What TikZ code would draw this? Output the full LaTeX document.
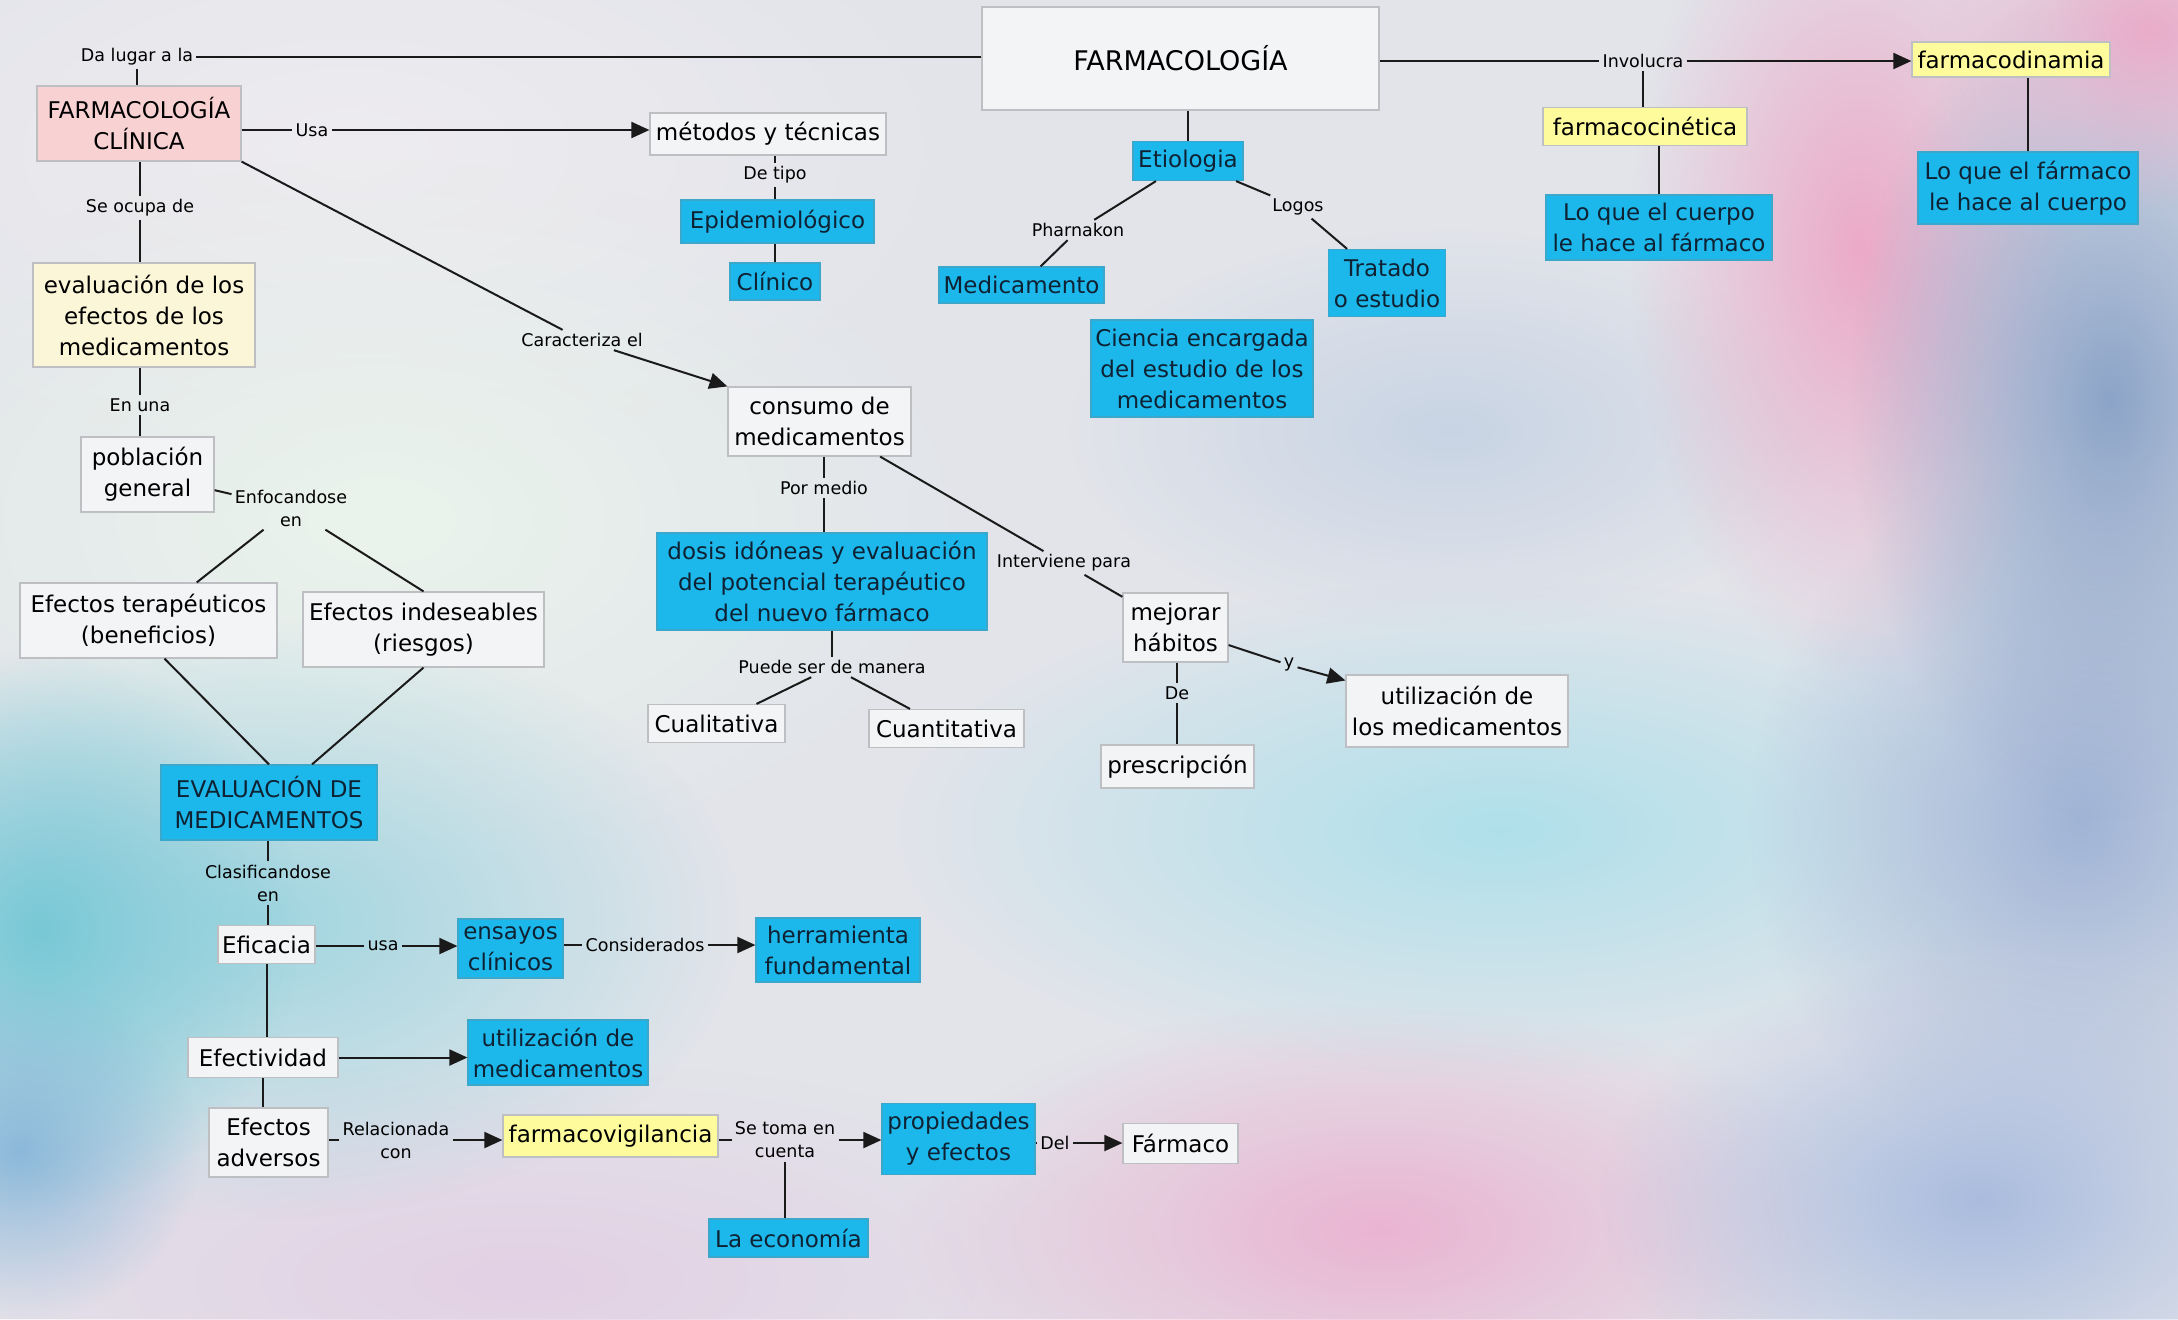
\documentclass[tikz,border=0pt]{standalone}
\usepackage{fontspec}
\setmainfont{DejaVu Sans}
\usetikzlibrary{arrows.meta,fadings}
\definecolor{bgbase}{HTML}{E2E4EA}
\definecolor{cyanbox}{HTML}{1CB8EC}
\definecolor{yelbox}{HTML}{FDFB9C}
\definecolor{paleyel}{HTML}{FCF6D8}
\definecolor{pinkbox}{HTML}{F8D2D3}
\definecolor{whitebox}{HTML}{F3F4F6}
\definecolor{boxline}{HTML}{BDBFC3}
\definecolor{linec}{HTML}{1A1A1A}
\definecolor{navytext}{HTML}{0F2233}
\definecolor{bA}{HTML}{EEECF0}
\definecolor{bB}{HTML}{EAF4EC}
\definecolor{bC}{HTML}{E2D0E4}
\definecolor{bD}{HTML}{A0D6E0}
\definecolor{bE}{HTML}{78C8D6}
\definecolor{bF}{HTML}{8CB9DA}
\definecolor{bG}{HTML}{EAB4D2}
\definecolor{bH}{HTML}{AFE0EA}
\definecolor{bI}{HTML}{A0B4D6}
\definecolor{bJ}{HTML}{AABCDE}
\definecolor{bK}{HTML}{C8D4E4}
\definecolor{bL}{HTML}{ECAAC8}
\definecolor{bM}{HTML}{8CA4C8}
\definecolor{bN}{HTML}{EAACCA}
\tikzfading[name=softblob, inner color=transparent!0, outer color=transparent!100]
\tikzset{
  wh/.style 2 args={minimum width=#1*0.5pt, minimum height=#2*0.5pt},
  basebox/.style={draw=boxline, line width=0.6pt, inner sep=2pt, align=center,
    font=\fontsize{11.5}{15.5}\selectfont, text=black},
  wbox/.style={basebox, fill=whitebox},
  cbox/.style={basebox, fill=cyanbox, draw=cyanbox!70!gray, text=navytext},
  ybox/.style={basebox, fill=yelbox},
  pybox/.style={basebox, fill=paleyel},
  pbox/.style={basebox, fill=pinkbox},
  titlefont/.style={font=\fontsize{13.5}{16}\selectfont},
  lbl/.style={inner sep=1.5pt, align=center, font=\fontsize{8.75}{11.5}\selectfont, text=black},
  con/.style={draw=linec, line width=1pt},
  arr/.style={con, -{Triangle[length=9pt,width=8pt]}},
  blob/.style={fill=#1, path fading=softblob}
}
\begin{document}
\begin{tikzpicture}[x=0.5pt,y=-0.5pt]
\useasboundingbox (0,0) rectangle (2178,1319);
% background
\fill[bgbase] (0,0) rectangle (2178,1319);
\begin{scope}
\clip (0,0) rectangle (2178,1319);
\fill[blob=bA] (350,150) ellipse (650 and 330);
\fill[blob=bB] (380,520) ellipse (600 and 360);
\fill[blob=bC] (520,1280) ellipse (650 and 220);
\fill[blob=bD] (260,920) ellipse (480 and 300);
\fill[blob=bE] (40,930) ellipse (260 and 280);
\fill[blob=bF] (20,1150) ellipse (180 and 170);
\fill[blob=bG] (1380,1230) ellipse (480 and 230);
\fill[blob=bH] (1500,830) ellipse (600 and 250);
\fill[blob=bI] (2080,820) ellipse (330 and 360);
\fill[blob=bJ] (1980,1200) ellipse (380 and 240);
\fill[blob=bK] (1450,430) ellipse (380 and 200);
\fill[blob=bL] (1860,250) ellipse (230 and 420);
\fill[blob=bM] (2110,400) ellipse (260 and 420);
\fill[blob=bN] (2150,30) ellipse (220 and 180);
\end{scope}

% nodes
\node[wbox, titlefont, wh={397}{103}] (farm) at (1180.5,58.5) {FARMACOLOGÍA};
\node[pbox, wh={204}{75}] (clin) at (139,123.5) {FARMACOLOGÍA\\CLÍNICA};
\node[wbox, wh={236}{42}] (met) at (768,134) {métodos y técnicas};
\node[cbox, wh={193}{43}] (epi) at (777.5,221.5) {Epidemiológico};
\node[cbox, wh={90}{37}] (clinico) at (775,281.5) {Clínico};
\node[pybox, wh={222}{104}] (evalef) at (144,315) {evaluación de los\\efectos de los\\medicamentos};
\node[wbox, wh={133}{75}] (pob) at (147.5,474.5) {población\\general};
\node[wbox, wh={257}{75}] (efter) at (148.5,620.5) {Efectos terapéuticos\\(beneficios)};
\node[wbox, wh={241}{75}] (efind) at (423.5,629.5) {Efectos indeseables\\(riesgos)};
\node[cbox, wh={216}{75}] (evalmed) at (269,802.5) {EVALUACIÓN DE\\MEDICAMENTOS};
\node[wbox, wh={95}{38}] (efic) at (266.5,944.5) {Eficacia};
\node[cbox, wh={105}{59}] (ens) at (510.5,948.5) {ensayos\\clínicos};
\node[cbox, wh={164}{64}] (herr) at (838,950) {herramienta\\fundamental};
\node[wbox, wh={150}{40}] (efec) at (263,1057.5) {Efectividad};
\node[cbox, wh={180}{65}] (utilmed) at (558,1052.5) {utilización de\\medicamentos};
\node[wbox, wh={119}{69}] (efadv) at (268.5,1142.5) {Efectos\\adversos};
\node[ybox, wh={215}{42}] (fv) at (610.5,1136) {farmacovigilancia};
\node[cbox, wh={153}{71}] (prop) at (958.5,1139) {propiedades\\y efectos};
\node[wbox, wh={115}{40}] (farmaco) at (1180.5,1143.5) {Fármaco};
\node[cbox, wh={159}{38}] (eco) at (788.5,1238) {La economía};
\node[wbox, wh={183}{69}] (cons) at (819.5,421.5) {consumo de\\medicamentos};
\node[cbox, wh={330}{97}] (dosis) at (822,581.5) {dosis idóneas y evaluación\\del potencial terapéutico\\del nuevo fármaco};
\node[wbox, wh={137}{38}] (cualit) at (716.5,723.5) {Cualitativa};
\node[wbox, wh={155}{38}] (cuantit) at (946.5,728.5) {Cuantitativa};
\node[wbox, wh={105}{69}] (mejorar) at (1175.5,627.5) {mejorar\\hábitos};
\node[wbox, wh={153}{43}] (prescr) at (1177.5,766.5) {prescripción};
\node[wbox, wh={222}{72}] (utillos) at (1457,711) {utilización de\\los medicamentos};
\node[cbox, wh={110}{39}] (etio) at (1188,161) {Etiologia};
\node[cbox, wh={165}{36}] (medicam) at (1021.5,285) {Medicamento};
\node[cbox, wh={117}{67}] (trat) at (1387,283) {Tratado\\o estudio};
\node[cbox, wh={222}{97}] (ciencia) at (1202,368.5) {Ciencia encargada\\del estudio de los\\medicamentos};
\node[ybox, wh={204}{38}] (farmcin) at (1645,126.5) {farmacocinética};
\node[cbox, wh={226}{65}] (cuerpo) at (1659,227.5) {Lo que el cuerpo\\le hace al fármaco};
\node[ybox, wh={198}{35}] (farmdin) at (2011,59.5) {farmacodinamia};
\node[cbox, wh={220}{72}] (farmaco2) at (2028,188) {Lo que el fármaco\\le hace al cuerpo};

% labels
\node[lbl] (dl) at (137,57) {Da lugar a la};
\node[lbl] (usa) at (312,130) {Usa};
\node[lbl] (so) at (140,208) {Se ocupa de};
\node[lbl] (dt) at (775,175) {De tipo};
\node[lbl] (car) at (582,340) {Caracteriza el};
\node[lbl] (eu) at (140,405) {En una};
\node[lbl] (enf) at (291,508) {Enfocandose\\en};
\node[lbl] (cl) at (268,883) {Clasificandose\\en};
\node[lbl] (usa2) at (383,946) {usa};
\node[lbl] (consid) at (645,945) {Considerados};
\node[lbl] (rel) at (396,1140) {Relacionada\\con};
\node[lbl] (st) at (785,1140) {Se toma en\\cuenta};
\node[lbl] (del) at (1055,1143) {Del};
\node[lbl] (pm) at (824,488) {Por medio};
\node[lbl] (puede) at (832,667) {Puede ser de manera};
\node[lbl] (int) at (1064,563) {Interviene para};
\node[lbl] (yy) at (1289,665) {y};
\node[lbl] (de) at (1177,693) {De};
\node[lbl] (phar) at (1078,230) {Pharnakon};
\node[lbl] (logos) at (1298,207) {Logos};
\node[lbl] (inv) at (1643,61) {Involucra};

% connectors
\draw[con] (dl) -- (dl -| farm.west);
\draw[con] (dl) -- (dl |- clin.north);
\draw[con] (usa) -- (usa -| clin.east);
\draw[arr] (usa) -- (usa -| met.west);
\draw[con] (dt) -- (dt |- met.south);
\draw[con] (dt) -- (dt |- epi.north);
\draw[con] (clinico) -- (clinico |- epi.south);
\draw[con] (so) -- (so |- clin.south);
\draw[con] (so) -- (so |- evalef.north);
\draw[con] (eu) -- (eu |- evalef.south);
\draw[con] (eu) -- (eu |- pob.north);
\draw[con] (clin.south east) -- (car);
\draw[arr] (car) -- (cons.north west);
\draw[con] (pob) -- (enf);
\draw[con] (enf) -- (efter);
\draw[con] (enf) -- (efind.north);
\draw[con] ([xshift=8pt]efter.south) -- (evalmed.north);
\draw[con] (efind.south) -- ([xshift=21.5pt]evalmed.north);
\draw[con] (cl) -- (cl |- evalmed.south);
\draw[con] (cl) -- (cl |- efic.north);
\draw[con] (usa2) -- (usa2 -| efic.east);
\draw[arr] (usa2) -- (usa2 -| ens.west);
\draw[con] (consid) -- (consid -| ens.east);
\draw[arr] (consid) -- (consid -| herr.west);
\draw[con] (efic) -- (efic |- efec.north);
\draw[arr] (efec.east) -- (efec.east -| utilmed.west);
\draw[con] (efec.south) -- (efec.south |- efadv.north);
\draw[con] (rel) -- (rel -| efadv.east);
\draw[arr] (rel) -- (rel -| fv.west);
\draw[con] (st) -- (st -| fv.east);
\draw[arr] (st) -- (st -| prop.west);
\draw[con] (st) -- (st |- eco.north);
\draw[con] (del) -- (del -| prop.east);
\draw[arr] (del) -- (del -| farmaco.west);
\draw[con] (pm) -- (pm |- cons.south);
\draw[con] (pm) -- (pm |- dosis.north);
\draw[con] (puede) -- (puede |- dosis.south);
\draw[con] (puede) -- (cualit);
\draw[con] (puede) -- (cuantit);
\draw[con] (cons) -- (int);
\draw[con] (int) -- (mejorar);
\draw[con] (mejorar) -- (yy);
\draw[arr] (yy) -- (utillos);
\draw[con] (de) -- (de |- mejorar.south);
\draw[con] (de) -- (de |- prescr.north);
\draw[con] (etio) -- (etio |- farm.south);
\draw[con] (etio) -- (phar);
\draw[con] (phar) -- (medicam);
\draw[con] (etio) -- (logos);
\draw[con] (logos) -- (trat);
\draw[con] (inv) -- (inv -| farm.east);
\draw[arr] (inv) -- (inv -| farmdin.west);
\draw[con] (inv) -- (inv |- farmcin.north);
\draw[con] (cuerpo) -- (cuerpo |- farmcin.south);
\draw[con] (farmaco2) -- (farmaco2 |- farmdin.south);
\end{tikzpicture}
\end{document}
